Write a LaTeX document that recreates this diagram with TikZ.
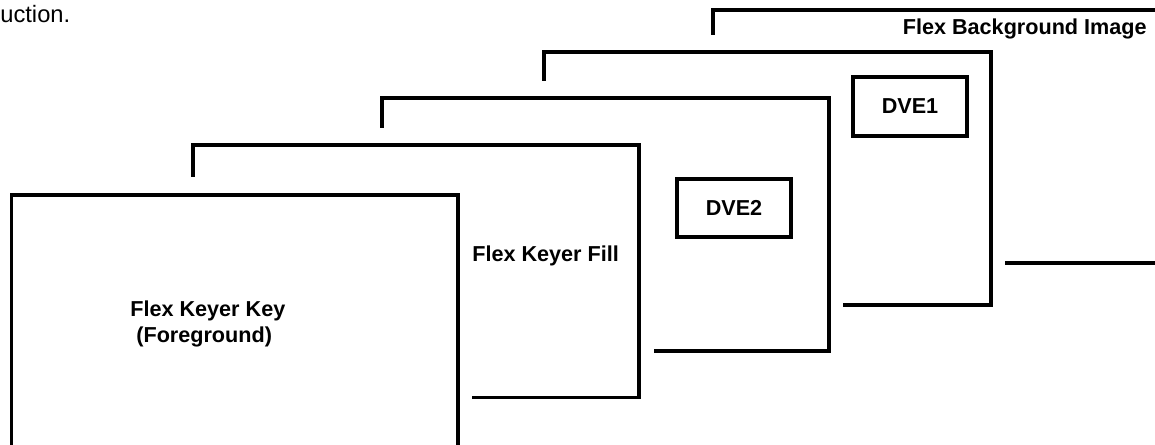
\documentclass[tikz,border=0pt]{standalone}
\usepackage{fontspec}
\setmainfont{Liberation Sans}
\usetikzlibrary{positioning}

\begin{document}
\begin{tikzpicture}[
    x=0.02cm,y=-0.02cm,
    sheet/.style={draw, line width=0.08cm},
    dvebox/.style={draw, rectangle, line width=0.08cm, minimum width=2.28cm, minimum height=1.17cm, inner sep=0pt, font=\fontsize{12.3}{14.8}\selectfont\bfseries},
    caption/.style={inner sep=0pt, font=\fontsize{12.3}{14.8}\selectfont\bfseries}
]
    \useasboundingbox (0,0) rectangle (1155,445);

    % --- Text cut off at the page edge ---
    \node[inner sep=0pt, anchor=base west, font=\fontsize{13.5}{16}\selectfont] (cuttxt) at (0,23) {uction.};

    % --- Sheets, back to front ---
    \draw[sheet] (713,35) -- (713,10.5) -- (1170,10.5);
    \draw[sheet] (1005,263) -- (1170,263);

    \draw[sheet] (544,81) -- (544,52.5) -- (991,52.5) -- (991,305) -- (843,305);

    \draw[sheet] (381.5,128) -- (381.5,98.5) -- (829,98.5) -- (829,351.5) -- (654,351.5);

    \draw[sheet] (193,177) -- (193,145) -- (639,145) -- (639,397.5) -- (472,397.5);

    \draw[sheet] (11.5,195) rectangle (458,455);

    % --- Labels ---
    \node[caption, anchor=base east] (bgtxt) at (1147,35) {Flex Background Image};
    \node[dvebox] (dve1) at (910,106.5) {DVE1};
    \node[dvebox] (dve2) at (734,208) {DVE2};
    \node[caption, anchor=base west] (filltxt) at (472,262) {Flex Keyer Fill};
    \node[caption, anchor=west, align=left] (keytxt) at (130,324) {Flex Keyer Key\\\hspace*{0.12cm}(Foreground)};

\end{tikzpicture}
\end{document}
